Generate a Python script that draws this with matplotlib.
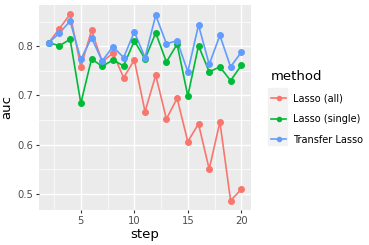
import numpy as np
import matplotlib.pyplot as plt
from matplotlib.lines import Line2D
from matplotlib.patches import Rectangle

# === Data ===
step = list(range(2, 21))
lasso_all = [0.807, 0.836, 0.865, 0.758, 0.832, 0.768, 0.786, 0.736, 0.772, 0.667,
             0.741, 0.652, 0.694, 0.606, 0.642, 0.550, 0.646, 0.486, 0.509]
lasso_single = [0.807, 0.801, 0.814, 0.684, 0.774, 0.759, 0.772, 0.760, 0.811, 0.774,
                0.827, 0.768, 0.804, 0.699, 0.801, 0.748, 0.758, 0.730, 0.761]
transfer = [0.807, 0.827, 0.851, 0.773, 0.817, 0.770, 0.799, 0.777, 0.829, 0.777,
            0.863, 0.805, 0.811, 0.748, 0.843, 0.763, 0.822, 0.758, 0.788]

methods = ["Lasso (all)", "Lasso (single)", "Transfer Lasso"]
colors = ["#F8766D", "#00BA38", "#619CFF"]
series = [lasso_all, lasso_single, transfer]

# === Plot ===
fig = plt.figure(figsize=(3.69, 2.45), dpi=100)
ax = fig.add_axes([0.106, 0.143, 0.574, 0.837])
ax.set_facecolor("#EBEBEB")
for s in ax.spines.values():
    s.set_visible(False)

for vals, c in zip(series, colors):
    ax.plot(step, vals, color=c, lw=1.2, zorder=3)
for vals, c in zip(series, colors):
    ax.plot(step, vals, "o", color=c, ms=4, zorder=4)

ax.set_xlim(1.1, 20.9)
ax.set_ylim(0.467, 0.884)
ax.set_xticks([5, 10, 15, 20])
ax.set_yticks([0.5, 0.6, 0.7, 0.8])
ax.set_xticks([2.5, 7.5, 12.5, 17.5], minor=True)
ax.set_yticks([0.55, 0.65, 0.75, 0.85], minor=True)
ax.grid(True, which="major", color="white", lw=1.0)
ax.grid(True, which="minor", color="white", lw=0.5)
ax.set_axisbelow(True)
ax.tick_params(which="major", length=2.5, color="#333333", labelsize=7.2,
               labelcolor="#4D4D4D", pad=1.5)
ax.tick_params(which="minor", length=0)
ax.set_xlabel("step", fontsize=9.5, labelpad=2)
ax.set_ylabel("auc", fontsize=9.5, labelpad=3)

# legend
fig.patches.append(Rectangle((268 / 369, 1 - 145 / 245), 19 / 369, 57 / 245,
                             transform=fig.transFigure, color="#F2F2F2", zorder=0))
handles = [Line2D([], [], color=c, lw=1.2, marker="o", ms=3) for c in colors]
leg = fig.legend(handles, methods, title="method", loc="upper left",
                 bbox_to_anchor=(262 / 369, 1 - 61 / 245), frameon=False,
                 fontsize=7, title_fontsize=9.5, handlelength=1.6,
                 labelspacing=1.1, handletextpad=0.7)
leg._legend_box.align = "left"

fig.savefig("out.png", dpi=100)
